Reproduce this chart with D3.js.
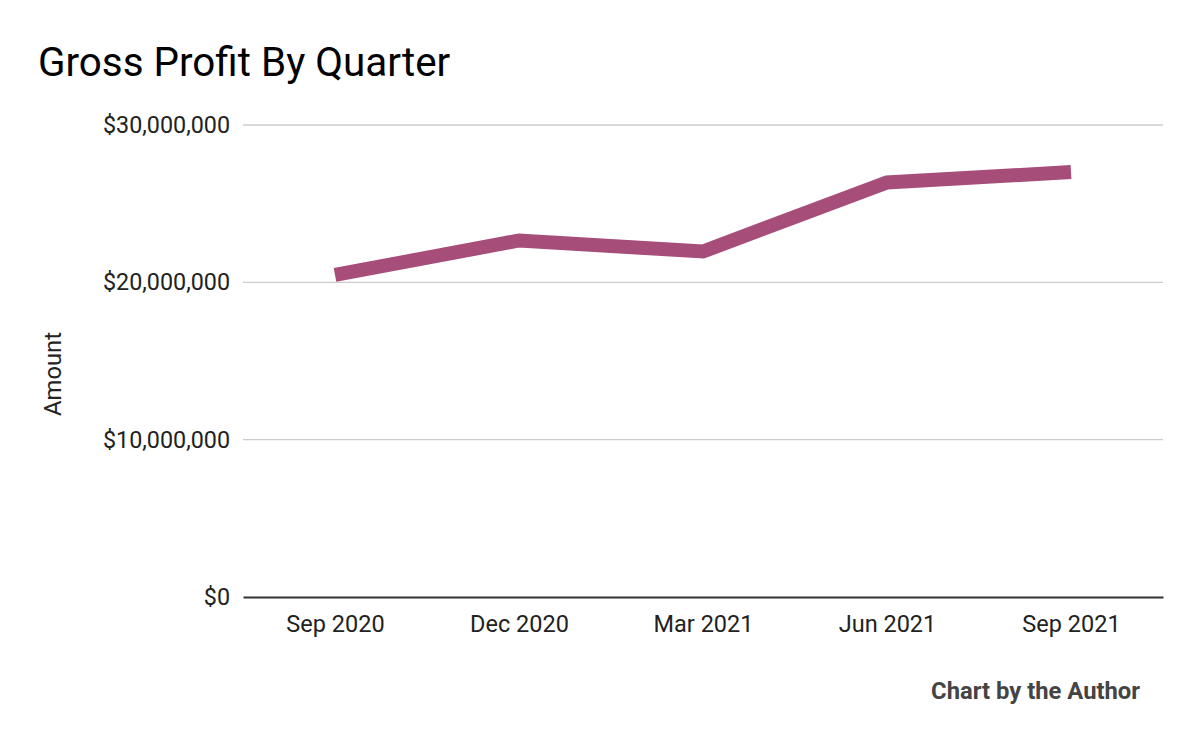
<!DOCTYPE html>
<html><head><meta charset="utf-8">
<script src="https://cdn.jsdelivr.net/npm/d3@7"></script>
<style>body{margin:0;background:#fff}svg{display:block;font-family:Roboto,sans-serif}</style>
</head><body><svg id="c" width="1200" height="742"></svg>
<script>
const categories = ["Sep 2020","Dec 2020","Mar 2021","Jun 2021","Sep 2021"];
const grossProfit = [20470000, 22660000, 21960000, 26350000, 27010000];
const yTicks = [0, 10000000, 20000000, 30000000];

(function(){
const svg = d3.select("#c");
const mLeft = 243, mRight = 1163, mTop = 125, mBottom = 597;
const x = d3.scalePoint().domain(categories).range([mLeft, mRight]).padding(0.5);
const y = d3.scaleLinear().domain([0, 30000000]).range([mBottom, mTop]);
const fmt = v => "$" + d3.format(",")(v);

// gridlines
svg.append("g").selectAll("line").data(yTicks.filter(d=>d>0)).join("line")
  .attr("x1", mLeft).attr("x2", mRight).attr("y1", d=>y(d)).attr("y2", d=>y(d))
  .attr("stroke", "#cccccc").attr("stroke-width", 1.3);

// y labels
const ya = svg.append("g").attr("transform", `translate(${mLeft},0)`)
  .call(d3.axisLeft(y).tickValues(yTicks).tickFormat(fmt).tickSize(0).tickPadding(13));
ya.select(".domain").remove();
ya.selectAll("text").attr("font-size", 23.3).attr("fill", "#222").attr("font-family", "Roboto");

// x axis
const xa = svg.append("g").attr("transform", `translate(0,${mBottom})`)
  .call(d3.axisBottom(x).tickSize(0).tickPadding(18));
xa.select(".domain").attr("stroke", "#333").attr("stroke-width", 2);
xa.selectAll("text").attr("font-size", 23.5).attr("fill", "#222").attr("font-family", "Roboto");

// line
svg.append("path").datum(grossProfit)
  .attr("fill", "none").attr("stroke", "#a64d79").attr("stroke-width", 14)
  .attr("stroke-linejoin", "miter")
  .attr("d", d3.line().x((d,i)=>x(categories[i])).y(d=>y(d)));

// title
svg.append("text").attr("x", 38).attr("y", 76).attr("font-size", 40.4).attr("fill", "#000").text("Gross Profit By Quarter");
// y axis title
svg.append("text").attr("transform", "translate(61,374) rotate(-90)").attr("text-anchor", "middle")
  .attr("font-size", 23.8).attr("fill", "#222").text("Amount");
// footer
svg.append("text").attr("x", 1140).attr("y", 699).attr("text-anchor", "end")
  .attr("font-size", 23.8).attr("font-weight", "bold").attr("fill", "#444").text("Chart by the Author");
})();
</script></body></html>
